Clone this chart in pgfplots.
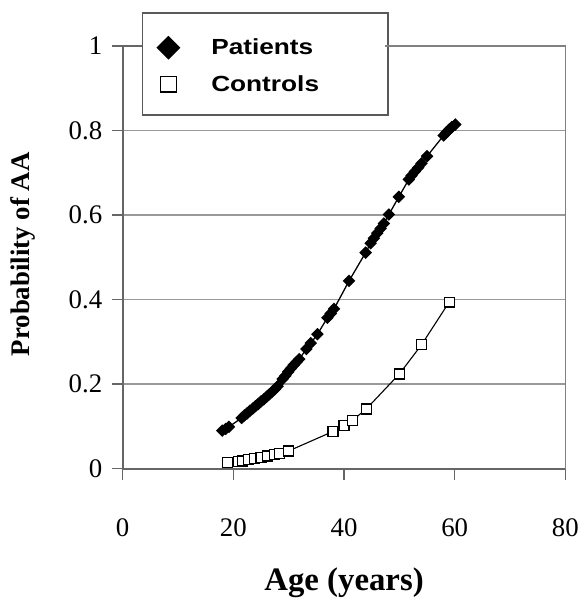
\documentclass[border=0pt]{standalone}
\usepackage{fontspec}
\setmainfont{Liberation Serif}
\newfontfamily\legfont[FakeStretch=1.2]{Liberation Sans}
\usepackage{pgfplots}
\pgfplotsset{compat=1.18}

\pgfplotsset{frame/.style={
    scale only axis, width=444bp, height=424bp,
    xmin=0, xmax=80, ymin=0, ymax=1,
    xtick={0,20,40,60,80}, ytick={0,0.2,0.4,0.6,0.8,1}}}

\begin{document}
\begin{tikzpicture}
% background: grid lines only
\begin{axis}[frame, name=ax,
    xticklabels={}, yticklabels={}, major tick length=0pt,
    axis line style={draw=black!50, line width=1.7bp},
    ymajorgrids=true,
    major grid style={draw=black!40, line width=1.3bp}]
\end{axis}
% top and right frame, left open where the legend sits
\draw[black!50, line width=1.8bp] (ax.south east) -- (ax.north east) -- ([xshift=-181bp]ax.north east);
\draw[black!50, line width=1.8bp] (ax.north west) -- ([xshift=19bp]ax.north west);
% foreground: ticks, labels, data, legend
\begin{axis}[frame,
    axis lines=box, xtick pos=left, ytick pos=left,
    tick align=outside, major tick length=11bp,
    every tick/.style={black!60, line width=1.3bp},
    axis line style={draw=black!60, line width=1.7bp},
    /pgf/number format/assume math mode=true,
    tick label style={font=\fontsize{27}{27}\selectfont},
    xticklabel style={anchor=north, yshift=-36bp},
    yticklabel style={anchor=east, xshift=-6bp},
    xlabel={\bfseries Age (years)},
    ylabel={\bfseries Probability of AA},
    xlabel style={font=\fontsize{33}{33}\selectfont, at={(rel axis cs:0.5,-0.288)}, anchor=base},
    ylabel style={font=\fontsize{27}{27}\selectfont, at={(rel axis cs:-0.190,0.507)}, anchor=south},
    legend image code/.code={\path[draw=none, fill=none] (0bp,-14bp) rectangle (69bp,18bp);
        \draw[#1, only marks] plot coordinates {(26bp,0bp)};},
    legend image post style={mark size=7.8bp},
    legend style={at={(rel axis cs:0.0428,1.0802)}, anchor=north west,
        draw=black!65, line width=1.7bp, fill=white,
        inner xsep=0pt, inner ysep=17bp, row sep=4.6bp,
        font=\legfont\bfseries\fontsize{22}{22}\selectfont,
        cells={anchor=west}, nodes={inner sep=0pt}},
]
\addplot[black, line width=1.3bp, mark=square*, mark size=3.8bp,
    mark options={rotate=45, fill=black}] coordinates {
    (18.0,0.090) (18.6,0.094) (19.2,0.099) (21.5,0.120) (22.0,0.126)
    (22.5,0.131) (23.0,0.137) (23.5,0.142) (24.0,0.148) (24.5,0.153)
    (25.0,0.159) (25.5,0.164) (26.0,0.170) (26.5,0.176) (27.0,0.182)
    (27.5,0.188) (28.0,0.195) (28.9,0.212) (29.4,0.220) (29.9,0.229)
    (30.4,0.237) (30.9,0.245) (31.4,0.252) (31.9,0.259) (33.2,0.283)
    (34.0,0.297) (35.2,0.318) (37.0,0.357) (37.6,0.367) (38.2,0.378)
    (40.9,0.444) (43.9,0.511) (44.8,0.533) (45.4,0.545) (46.0,0.557)
    (46.6,0.568) (47.2,0.580) (48.1,0.601) (49.9,0.643) (51.7,0.684)
    (52.2,0.693) (52.8,0.703) (53.4,0.712) (54.0,0.722) (55.0,0.739)
    (58.0,0.788) (58.5,0.795) (59.0,0.802) (59.5,0.808) (60.1,0.814)
};
\addlegendentry{Patients}
\addplot[black, line width=1.1bp, mark=square*, mark size=5bp,
    mark options={fill=white, line width=1.2bp}] coordinates {
    (19.0,0.014) (21.0,0.017) (21.7,0.018) (22.8,0.021) (23.8,0.024)
    (25.0,0.027) (26.2,0.030) (27.4,0.033) (28.3,0.036) (30.0,0.042)
    (38.0,0.088) (40.0,0.102) (41.5,0.114) (44.0,0.141) (50.0,0.224)
    (54.0,0.293) (59.0,0.394)
};
\addlegendentry{Controls\hspace*{69bp}}
\end{axis}
\draw[black!50, line width=1.8bp] (ax.south east) -- (ax.north east) -- ([xshift=-181bp]ax.north east);
\path ([shift={(-123bp,-131bp)}]ax.south west) rectangle ([shift={(19bp,46bp)}]ax.north east);
\end{tikzpicture}
\end{document}
